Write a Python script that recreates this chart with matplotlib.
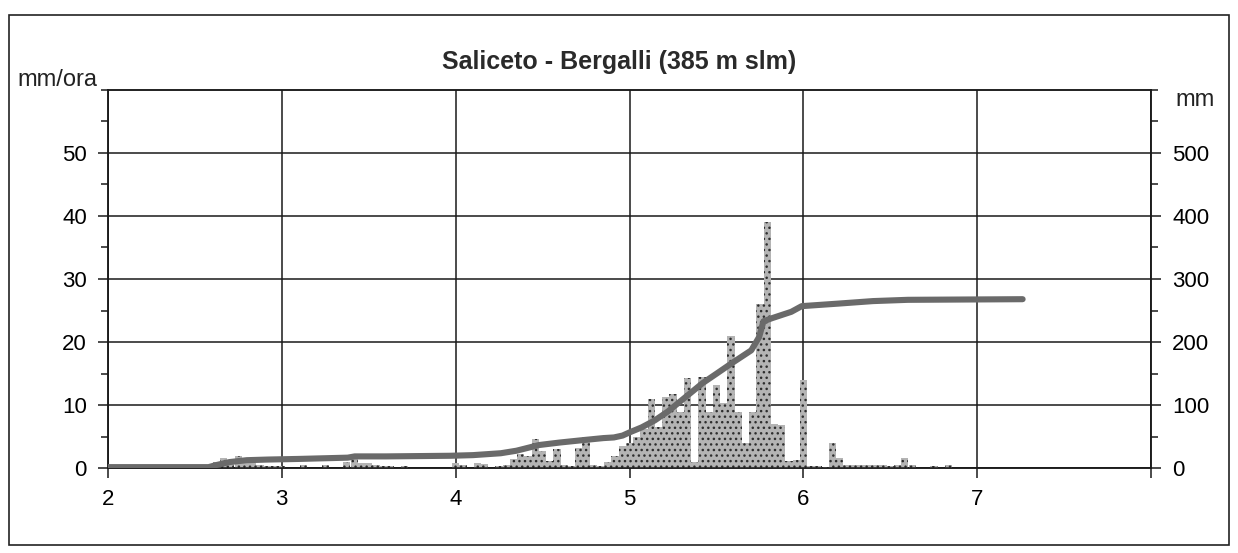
import matplotlib
matplotlib.use("Agg")
import matplotlib.pyplot as plt
from matplotlib.patches import Rectangle
from matplotlib.ticker import MultipleLocator

plt.rcParams['font.family'] = ['Liberation Sans', 'DejaVu Sans']
plt.rcParams['hatch.linewidth'] = 1.0

title = "Saliceto - Bergalli (385 m slm)"
left_label = "mm/ora"
right_label = "mm"
x_ticks = [2, 3, 4, 5, 6, 7, 8]
x_tick_labels = ["2", "3", "4", "5", "6", "7", ""]

# hourly rainfall intensity (mm/ora); time in days
bar_days = [2.625, 2.667, 2.708, 2.750, 2.792, 2.833, 2.875, 2.917, 2.958, 3.000,
            3.125, 3.250, 3.375, 3.417, 3.458, 3.500, 3.542, 3.583, 3.625, 3.708,
            4.000, 4.042, 4.125, 4.167, 4.250, 4.292,
            4.333, 4.375, 4.417, 4.458, 4.500, 4.542, 4.583, 4.625, 4.667, 4.708,
            4.750, 4.792, 4.833, 4.875, 4.917, 4.958,
            5.000, 5.042, 5.083, 5.125, 5.167, 5.208, 5.250, 5.292, 5.333, 5.375,
            5.417, 5.458, 5.500, 5.542, 5.583, 5.625, 5.667, 5.708, 5.750, 5.792,
            5.833, 5.875, 5.917, 5.958, 6.000,
            6.042, 6.083, 6.125, 6.167, 6.208, 6.250, 6.292, 6.333, 6.375, 6.417,
            6.458, 6.500, 6.542, 6.583, 6.625, 6.750, 6.833]
rain_mmh = [1.0, 1.6, 1.3, 2.0, 1.5, 0.8, 0.5, 0.4, 0.4, 0.3,
            0.5, 0.5, 1.0, 1.9, 0.8, 0.8, 0.6, 0.4, 0.3, 0.3,
            0.9, 0.6, 0.8, 0.7, 0.4, 0.5,
            1.5, 2.3, 2.0, 4.6, 2.8, 1.2, 3.0, 0.5, 0.3, 3.3,
            5.0, 0.5, 0.3, 1.0, 2.0, 3.5,
            4.1, 5.0, 6.3, 11.0, 6.5, 11.3, 11.8, 9.0, 14.3, 1.0,
            14.5, 9.0, 13.2, 10.3, 21.0, 9.0, 4.0, 9.0, 26.0, 39.0,
            7.0, 6.8, 1.2, 1.3, 14.0,
            0.3, 0.3, 0.2, 4.0, 1.6, 0.6, 0.5, 0.5, 0.6, 0.5,
            0.6, 0.4, 0.6, 1.6, 0.5, 0.4, 0.6]

# cumulative rainfall (mm)
cum_days = [2.0, 2.58, 2.62, 2.70, 2.80, 2.92, 3.10, 3.38, 3.42, 3.60, 3.97,
            4.10, 4.26, 4.35, 4.48, 4.60, 4.74, 4.85, 4.91, 4.96, 5.00, 5.07,
            5.145, 5.22, 5.30, 5.42, 5.50, 5.59, 5.70, 5.745, 5.77, 5.82, 5.93,
            5.99, 6.20, 6.40, 6.60, 7.26]
cum_mm = [2, 2, 5, 10, 13, 14, 15, 17, 19, 19, 20,
          21, 24, 28, 37, 41, 45, 48, 49, 52, 57, 65,
          76, 90, 108, 135, 150, 167, 187, 208, 233, 238, 248,
          257, 261, 265, 267, 268]

fig = plt.figure(figsize=(12.38, 5.53), dpi=100)
ax = fig.add_axes([0.087, 0.153, 0.843, 0.685])
ax2 = ax.twinx()

ax.set_zorder(1)
ax2.set_zorder(2)
ax.patch.set_visible(False)
ax2.patch.set_visible(False)

ax.bar(bar_days, rain_mmh, width=1/24, align='center', facecolor='#b4b4b4',
       edgecolor='#2e2e2e', linewidth=0, hatch='...', zorder=3)
ax2.plot(cum_days, cum_mm, color='#6a6a6a', linewidth=4.4, solid_capstyle='round',
         solid_joinstyle='round', zorder=4)

ax.set_xlim(2, 8)
ax.set_ylim(0, 60)
ax2.set_ylim(0, 600)

ax.set_xticks(x_ticks)
ax.set_xticklabels(x_tick_labels)
ax.set_yticks([0, 10, 20, 30, 40, 50])
ax.yaxis.set_minor_locator(MultipleLocator(5))
ax2.set_yticks([0, 100, 200, 300, 400, 500])
ax2.yaxis.set_minor_locator(MultipleLocator(50))

ax.grid(True, which='major', color='#1a1a1a', linewidth=1.1, zorder=0)
ax.set_axisbelow(True)

for a in (ax, ax2):
    for s in a.spines.values():
        s.set_color('#1a1a1a')
        s.set_linewidth(1.1)
    a.tick_params(which='both', direction='out', color='#1a1a1a', width=1.1)
    a.tick_params(which='major', length=7, labelsize=16, pad=8)
    a.tick_params(which='minor', length=5)

ax.tick_params(axis='x', length=7, labelsize=16, pad=8)

fig.text(0.5, 0.888, title, ha='center', va='center', fontsize=18,
         fontweight='bold', color='#2a2a2a')
fig.text(0.046, 0.855, left_label, ha='center', va='center', fontsize=17, color='#222222')
fig.text(0.965, 0.82, right_label, ha='center', va='center', fontsize=17, color='#222222')

fig.add_artist(Rectangle((0.007, 0.014), 0.986, 0.958, transform=fig.transFigure,
                         fill=False, edgecolor='#222222', linewidth=1.2))

fig.savefig("out.png", dpi=100)
